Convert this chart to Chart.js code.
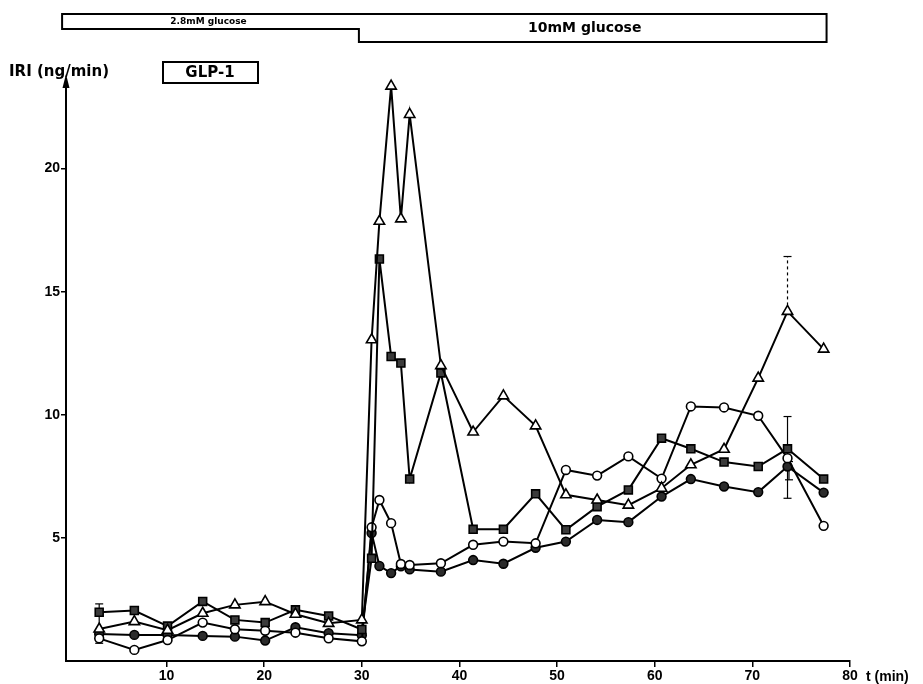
<!DOCTYPE html>
<html>
<head>
<meta charset="utf-8">
<script src="https://cdn.jsdelivr.net/npm/chart.js@4.4.1/dist/chart.umd.min.js"></script>
<style>
  html, body { margin: 0; padding: 0; background: #fff; }
  #c { display: block; }
</style>
</head>
<body>
<canvas id="c" width="923" height="684"></canvas>
<script>
// sampling times (min)
const minutes = [3.1, 6.7, 10.1, 13.7, 17.0, 20.1, 23.2, 26.6, 30.0, 31.0, 31.8, 33.0, 34.0, 34.9,
  38.1, 41.4, 44.5, 47.8, 50.9, 54.1, 57.3, 60.7, 63.7, 67.1, 70.6, 73.6, 77.3]

// IRI (ng/min), one array per curve
const openTriangle = [1.30, 1.60, 1.25, 1.94, 2.28, 2.41, 1.90, 1.53, 1.67, 13.05, 17.86, 23.35, 17.96, 22.2,
  12.0, 9.30, 10.77, 9.55, 6.75, 6.54, 6.33, 7.02, 7.97, 8.60, 11.49, 14.2, 12.67]
const filledSquare = [1.98, 2.05, 1.42, 2.42, 1.67, 1.56, 2.08, 1.83, 1.28, 4.17, 16.33, 12.37, 12.1, 7.39,
  11.7, 5.35, 5.35, 6.79, 5.33, 6.27, 6.95, 9.05, 8.62, 8.08, 7.90, 8.62, 7.39]
const openCircle = [0.92, 0.45, 0.85, 1.56, 1.29, 1.23, 1.15, 0.92, 0.80, 5.43, 6.54, 5.60, 3.94, 3.90,
  3.97, 4.72, 4.85, 4.78, 7.76, 7.53, 8.31, 7.41, 10.34, 10.30, 9.96, 8.24, 5.49]
const filledCircle = [1.10, 1.06, 1.06, 1.02, 0.99, 0.83, 1.37, 1.13, 1.05, 5.20, 3.86, 3.57, 3.85, 3.72,
  3.63, 4.10, 3.95, 4.60, 4.85, 5.73, 5.64, 6.68, 7.39, 7.09, 6.86, 7.90, 6.84]

// error bars
const errMinutes = [3.1, 73.6, 73.75]
const errLow = [0.72, 6.61, 7.36]
const errHigh = [2.32, 9.93, 8.10]
// upper (dashed) bar of the triangle curve at 73.6 min
const dashedErr = { t: 73.6, low: 14.2, high: 16.43 }

// axis ticks
const xTicks = [10, 20, 30, 40, 50, 60, 70, 80]
const yTicks = [5, 10, 15, 20]

// glucose phases drawn above the plot
const phaseLabels = ['2.8mM glucose', '10mM glucose']
const phaseBounds = [-0.7, 29.7, 77.6]

const FONT = "'Liberation Sans', Arial, sans-serif"
const WIDE = "'DejaVu Sans', sans-serif"

function curve(values, style, fill, radius) {
  return {
    data: minutes.map((t, i) => ({ x: t, y: values[i] })),
    borderColor: '#000',
    borderWidth: 2,
    tension: 0,
    pointStyle: style,
    pointRadius: radius,
    pointBackgroundColor: fill,
    pointBorderColor: '#000',
    pointBorderWidth: 1.6,
    clip: false
  }
}

function errorBar(t, low, high) {
  return {
    data: [{ x: t, y: low }, { x: t, y: high }],
    borderColor: '#000',
    borderWidth: 1.2,
    pointStyle: 'line',
    pointRadius: 4,
    pointBorderColor: '#000',
    pointBorderWidth: 1.2,
    clip: false
  }
}

const datasets = [
  curve(openTriangle, 'triangle', '#fff', 6),
  curve(filledSquare, 'rect', '#3b3b3b', 5.6),
  curve(openCircle, 'circle', '#fff', 4.4),
  curve(filledCircle, 'circle', '#2b2b2b', 4.4)
]
errMinutes.forEach((t, i) => datasets.push(errorBar(t, errLow[i], errHigh[i])))
const dashed = errorBar(dashedErr.t, dashedErr.low, dashedErr.high)
dashed.borderDash = [3, 3]
dashed.pointRadius = [0, 4]
datasets.push(dashed)

// decorations: axis arrow, labels, GLP-1 box, glucose bar
const decorations = {
  id: 'decorations',
  afterDraw(chart) {
    const ctx = chart.ctx
    const area = chart.chartArea
    const x = chart.scales.x
    ctx.save()
    ctx.fillStyle = '#000'
    ctx.strokeStyle = '#000'

    // arrow on y axis
    ctx.beginPath()
    ctx.moveTo(area.left, area.top - 6)
    ctx.lineTo(area.left - 3.5, area.top + 8)
    ctx.lineTo(area.left + 3.5, area.top + 8)
    ctx.closePath()
    ctx.fill()

    ctx.textBaseline = 'middle'
    ctx.textAlign = 'left'
    ctx.font = 'bold 15px ' + WIDE
    ctx.fillText('IRI (ng/min)', 9, 72)
    ctx.font = 'bold 14px ' + FONT
    ctx.fillText('t (min)', 866, 677)

    // GLP-1 box
    ctx.lineWidth = 2
    ctx.strokeRect(163, 62, 95, 21)
    ctx.textAlign = 'center'
    ctx.font = 'bold 15px ' + WIDE
    ctx.fillText('GLP-1', 210, 73)

    // glucose bar with the step at the switch
    const xl = x.getPixelForValue(phaseBounds[0])
    const xs = x.getPixelForValue(phaseBounds[1])
    const xr = x.getPixelForValue(phaseBounds[2])
    ctx.lineWidth = 2
    ctx.beginPath()
    ctx.moveTo(xl, 14)
    ctx.lineTo(xr, 14)
    ctx.lineTo(xr, 42)
    ctx.lineTo(xs, 42)
    ctx.lineTo(xs, 29)
    ctx.lineTo(xl, 29)
    ctx.closePath()
    ctx.stroke()

    ctx.font = 'bold 9px ' + WIDE
    ctx.fillText(phaseLabels[0], (xl + xs) / 2 - 2, 22)
    ctx.font = 'bold 14px ' + WIDE
    ctx.fillText(phaseLabels[1], (xs + xr) / 2 - 8, 28)
    ctx.restore()
  }
}

new Chart(document.getElementById('c'), {
  type: 'line',
  data: { datasets },
  plugins: [decorations],
  options: {
    responsive: false,
    animation: false,
    layout: { padding: { top: 80, right: 73, left: 0, bottom: 0 } },
    plugins: { legend: { display: false }, tooltip: { enabled: false } },
    scales: {
      x: {
        type: 'linear',
        min: -0.3,
        max: 80,
        afterBuildTicks: s => { s.ticks = xTicks.map(v => ({ value: v })) },
        afterFit: s => { s.height = 23 },
        grid: { drawOnChartArea: false, tickLength: 6, color: '#000', lineWidth: 1.5 },
        border: { color: '#000', width: 2 },
        ticks: { color: '#000', padding: 1, maxRotation: 0, font: { family: FONT, size: 14, weight: 'bold' } }
      },
      y: {
        type: 'linear',
        min: 0,
        max: 23.6,
        afterBuildTicks: s => { s.ticks = yTicks.map(v => ({ value: v })) },
        afterFit: s => { s.width = 66 },
        grid: { drawOnChartArea: false, tickLength: 5, color: '#000', lineWidth: 1.5 },
        border: { color: '#000', width: 2 },
        ticks: { color: '#000', padding: 1, font: { family: FONT, size: 14, weight: 'bold' } }
      }
    }
  }
})
</script>
</body>
</html>
